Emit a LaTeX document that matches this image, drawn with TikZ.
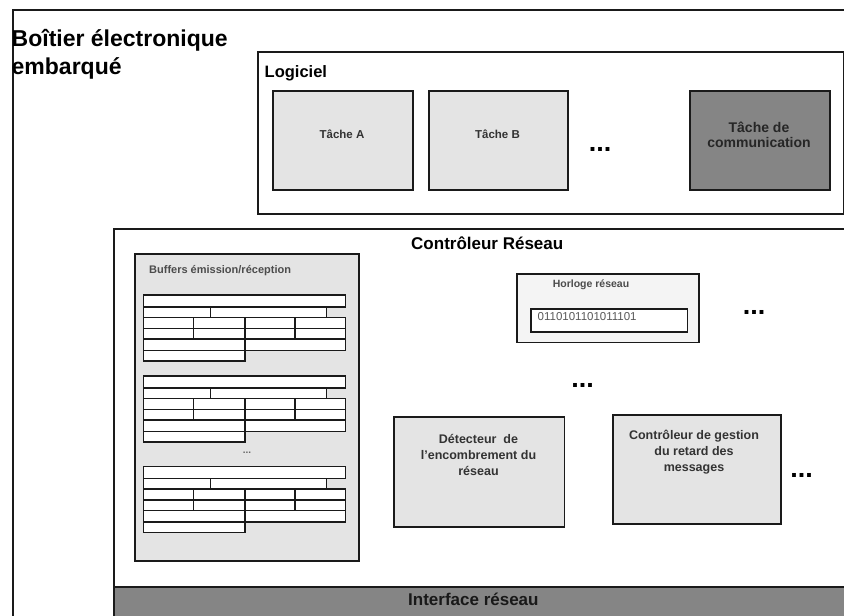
\documentclass[tikz,border=0pt]{standalone}
\usepackage{fontspec}
\setmainfont{Liberation Sans}
\definecolor{lineC}{HTML}{1A1A1A}
\definecolor{lightC}{HTML}{E4E4E4}
\definecolor{paleC}{HTML}{F4F4F4}
\definecolor{darkC}{HTML}{858585}
\definecolor{txtC}{HTML}{333333}
\newcommand\myfs[2]{\fontsize{#1}{#2}\selectfont}
\newcommand\bufgroup[1]{%
\begin{scope}[shift={(0,#1)}]
\draw[cell] (143.3,0) rectangle (345.7,12);
\draw[cell] (143.3,12) rectangle (210.5,22.5);
\draw[cell] (210.5,12) rectangle (326.7,22.5);
\foreach \a/\b in {143.3/193.3,193.3/245,245/295,295/345.7}{
  \draw[cell] (\a,22.5) rectangle (\b,33.5);
  \draw[cell] (\a,33.5) rectangle (\b,44);}
\draw[cell] (143.3,44) rectangle (245,55.5);
\draw[cell] (245,44) rectangle (345.7,55.5);
\draw[cell] (143.3,55.5) rectangle (245,66);
\end{scope}}
\begin{document}
\begin{tikzpicture}[x=1pt,y=-1pt,
  box/.style={draw=lineC, line width=1.8pt, inner sep=0pt, anchor=north west},
  cell/.style={draw=lineC, fill=white, line width=1.5pt},
  lbl/.style={inner sep=0pt, text=txtC, font=\bfseries},
  dots/.style={inner sep=0pt, font=\bfseries\myfs{27}{27}, text=black}]
\useasboundingbox (0,0) rectangle (844,616);
\fill[white] (0,0) rectangle (844,616);
% outer box
\node[box, fill=white, minimum width=860pt, minimum height=640pt] (outer) at (11.7,9) {};
\node[anchor=base west, inner sep=0pt, font=\bfseries\myfs{23}{28}, text=black] (title1) at (11.5,46) {Boîtier électronique};
\node[anchor=base west, inner sep=0pt, font=\bfseries\myfs{23}{28}, text=black] (title2) at (11.5,74) {embarqué};
% Logiciel
\node[box, fill=white, minimum width=586pt, minimum height=162pt] (logiciel) at (257,50.7) {};
\node[anchor=base west, inner sep=0pt, font=\bfseries\myfs{16.5}{18}, text=black] (loglbl) at (264.5,77.5) {Logiciel};
\node[box, fill=lightC, minimum width=140pt, minimum height=99pt] (tacheA) at (272,90) {};
\node[box, fill=lightC, minimum width=139pt, minimum height=99pt] (tacheB) at (428,90) {};
\node[box, fill=darkC, minimum width=140pt, minimum height=99pt] (tacheC) at (689,90) {};
\node[lbl, font=\bfseries\myfs{11.5}{13}] (lblA) at (342,134) {Tâche A};
\node[lbl, font=\bfseries\myfs{11.5}{13}] (lblB) at (497.5,134) {Tâche B};
\node[dots] (dotsL) at (600,149) {...};
\node[lbl, align=center, text=black!85, font=\bfseries\myfs{14}{15}] (lblC) at (759,135) {Tâche de\\communication};
% Controleur reseau
\node[box, fill=white, minimum width=760pt, minimum height=420pt] (ctrl) at (113,227.7) {};
\node[anchor=base west, inner sep=0pt, font=\bfseries\myfs{17}{19}, text=black] (ctrllbl) at (411,249) {Contrôleur Réseau};
\node[box, fill=darkC, minimum width=760pt, minimum height=60pt] (iface) at (113,586) {};
\node[anchor=base west, inner sep=0pt, font=\bfseries\myfs{17}{19}, text=black!90] (ifacelbl) at (408,605) {Interface réseau};
% Buffers
\node[box, fill=lightC, minimum width=223.7pt, minimum height=306.7pt] (buffers) at (134,253.3) {};
\node[anchor=base west, lbl, text=black!70, font=\bfseries\myfs{11}{12}] (buflbl) at (149,273) {Buffers émission/réception};
\bufgroup{295}
\bufgroup{376}
\bufgroup{466.7}
\node[lbl, text=black!60, font=\bfseries\myfs{10}{10}] (bufdots) at (247,453) {...};
% Horloge
\node[box, fill=paleC, minimum width=182pt, minimum height=68.2pt] (horloge) at (516,273.3) {};
\node[lbl, text=black!70, font=\bfseries\myfs{10.5}{12}] (horlbl) at (591,285) {Horloge réseau};
\node[box, fill=white, minimum width=156.5pt, minimum height=22.7pt] (horbits) at (530,308.3) {};
\node[anchor=west, inner sep=0pt, text=black!65, font=\myfs{11.5}{12}] (bits) at (537.5,316.5) {0110101101011101};
\node[dots] (dotsH) at (754,312) {...};
\node[dots] (dotsM) at (582.5,385) {...};
% Detecteur & gestion
\node[box, fill=lightC, minimum width=170.2pt, minimum height=110pt] (detect) at (393.3,415.8) {};
\node[lbl, align=center, font=\bfseries\myfs{12.5}{16}] (detlbl) at (478.5,455) {Détecteur~ de\\l'encombrement du\\réseau};
\node[box, fill=lightC, minimum width=168.3pt, minimum height=109.3pt] (gestion) at (611.7,414) {};
\node[lbl, align=center, font=\bfseries\myfs{12.5}{15.7}] (gestlbl) at (694,452) {Contrôleur de gestion\\du retard des\\messages};
\node[dots] (dotsR) at (801.5,475) {...};
\end{tikzpicture}
\end{document}
